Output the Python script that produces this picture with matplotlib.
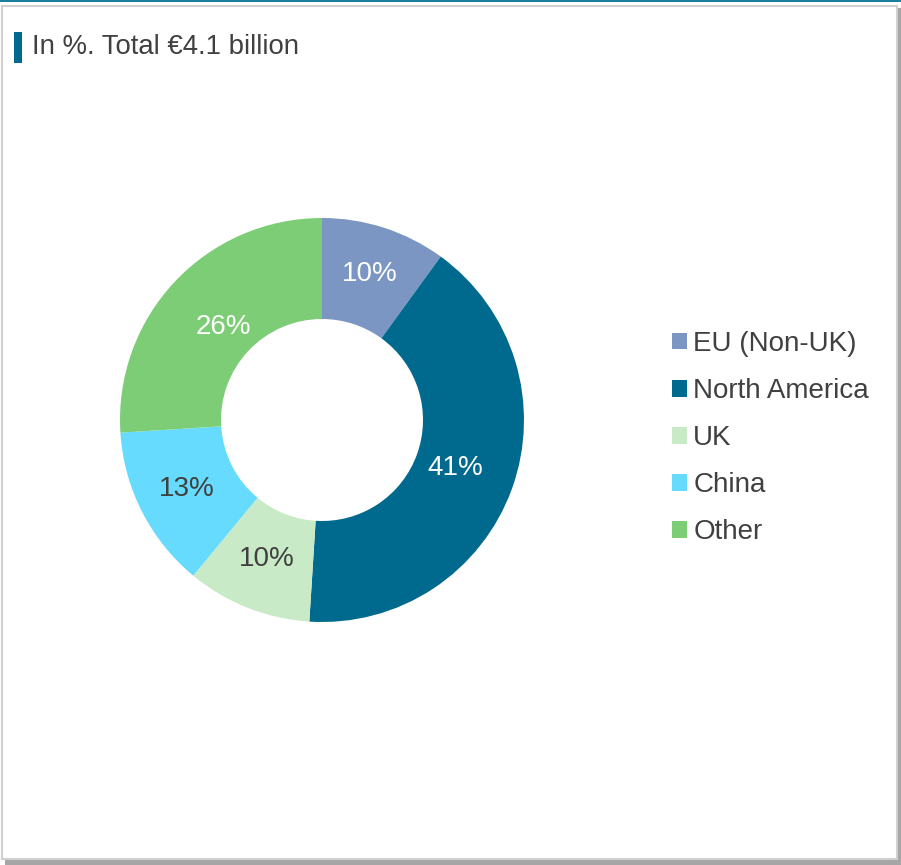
#!/usr/bin/env python3

import matplotlib.pyplot as plt
import numpy as np
from matplotlib.patches import Rectangle

# ======================================================================
# Data.
# ======================================================================

regions = ['EU (Non-UK)', 'North America', 'UK', 'China', 'Other']
shares = [10, 41, 10, 13, 26]
colors = ['#7b96c2', '#006a8e', '#c8eac6', '#66dbfd', '#7dcd77']
label_colors = ['white', 'white', '#404040', '#404040', 'white']
title = 'In %. Total \u20ac4.1 billion'

# ======================================================================
# Plot.
# ======================================================================

plt.rcParams['font.family'] = ['Liberation Sans', 'DejaVu Sans']
W, H = 901, 865
fig = plt.figure(figsize=(W / 100, H / 100), dpi=100)
fig.patch.set_facecolor('white')

# frame: shadow, border, teal top rule
fig.patches.append(Rectangle((5 / W, 0 / H), 896 / W, 857 / H,
                             transform=fig.transFigure, facecolor='#a6a6a6',
                             edgecolor='none', zorder=0))
fig.patches.append(Rectangle((2 / W, 6 / H), 895 / W, 853 / H,
                             transform=fig.transFigure, facecolor='white',
                             edgecolor='#d0d0d0', linewidth=1.5, zorder=1))
fig.patches.append(Rectangle((0, (H - 2) / H), 1, 2 / H,
                             transform=fig.transFigure, facecolor='#1a7f9c',
                             edgecolor='none', zorder=2))

# title with marker bar
fig.patches.append(Rectangle((14 / W, (H - 63) / H), 8 / W, 31 / H,
                             transform=fig.transFigure, facecolor='#006a8e',
                             edgecolor='none', zorder=3))
fig.text(32 / W, (H - 47) / H, title, fontsize=19.8, color='#404040',
         va='center', ha='left', zorder=4)

ax = fig.add_axes([0, 0, 1, 1])
ax.set_zorder(5)
ax.patch.set_alpha(0)
cx, cy, R = 322, H - 420, 202
wedges, texts, autotexts = ax.pie(
    shares,
    colors=colors,
    startangle=90,
    counterclock=False,
    center=(cx, cy),
    radius=R,
    wedgeprops=dict(width=101, linewidth=0),
    autopct='%d%%',
    pctdistance=0.73,
    textprops=dict(fontsize=20),
    frame=True,
    )
# label radius per wedge, as the reference places them
label_dist = [0.76, 0.70, 0.74, 0.75, 0.67]
for w, t, c, d in zip(wedges, autotexts, label_colors, label_dist):
    t.set_color(c)
    a = np.deg2rad(0.5 * (w.theta1 + w.theta2))
    t.set_position((cx + d * R * np.cos(a), cy + d * R * np.sin(a)))
ax.set_xlim(0, W)
ax.set_ylim(0, H)
ax.set_aspect('auto')
ax.axis('off')

leg = ax.legend(
    wedges, regions,
    loc='upper left',
    bbox_to_anchor=(658 / W, (H - 317) / H),
    bbox_transform=fig.transFigure,
    frameon=False,
    fontsize=20,
    labelcolor='#404040',
    handlelength=0.55,
    handleheight=0.55,
    handletextpad=0.22,
    labelspacing=0.76,
    borderpad=0,
    )

fig.savefig('out.png', dpi=100)
plt.close()
